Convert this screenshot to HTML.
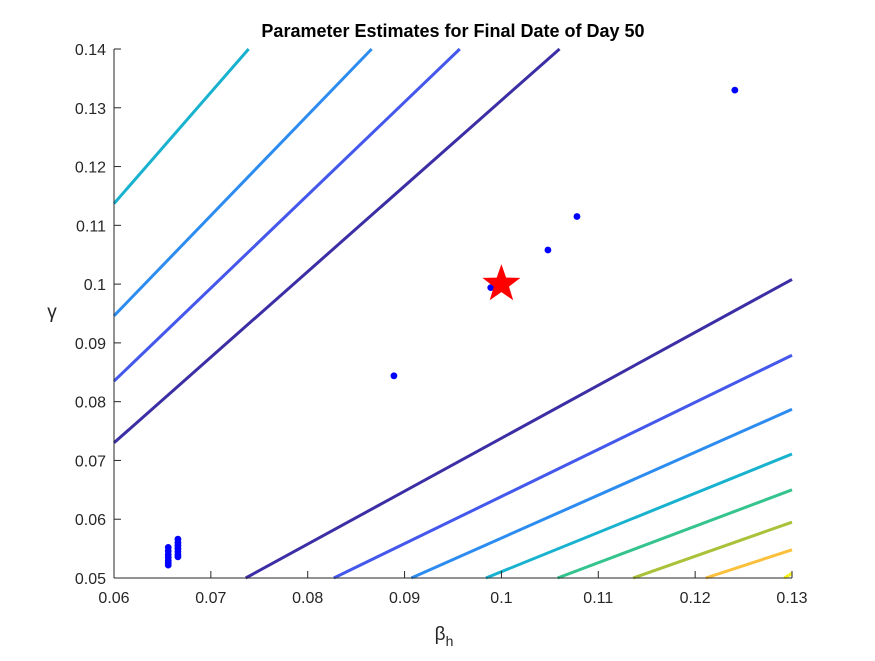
<!DOCTYPE html>
<html><head><meta charset="utf-8"><style>
body{margin:0;background:#fff}
svg text{font-family:"Liberation Sans",sans-serif;fill:#262626}
</style></head><body>
<svg id="chart" width="875" height="656" xmlns="http://www.w3.org/2000/svg">
<rect width="875" height="656" fill="#fff"/>
<g id="lines"></g>
<g id="pts"></g>
<g id="axes"></g>
<text x="453" y="37" text-anchor="middle" font-size="18" font-weight="bold" style="fill:#000">Parameter Estimates for Final Date of Day 50</text>
<text x="444" y="640" text-anchor="middle" font-size="19">β<tspan font-size="14" dy="6">h</tspan></text>
<text x="52" y="318" text-anchor="middle" font-size="19">γ</text>
</svg>
<script>
const xTicks=[0.06,0.07,0.08,0.09,0.1,0.11,0.12,0.13];
const xTickLabels=["0.06","0.07","0.08","0.09","0.1","0.11","0.12","0.13"];
const yTicks=[0.05,0.06,0.07,0.08,0.09,0.1,0.11,0.12,0.13,0.14];
const yTickLabels=["0.05","0.06","0.07","0.08","0.09","0.1","0.11","0.12","0.13","0.14"];
// contour segments [x1,y1,x2,y2] in data units
const contourSegs=[
[0.06,0.1137,0.0739,0.14],[0.06,0.0946,0.0866,0.14],[0.06,0.0835,0.0957,0.14],[0.06,0.0730,0.1060,0.14],
[0.0736,0.05,0.13,0.1008],[0.0827,0.05,0.13,0.0879],[0.0907,0.05,0.13,0.0787],[0.0984,0.05,0.13,0.0711],
[0.1058,0.05,0.13,0.0650],[0.1136,0.05,0.13,0.0595],[0.1211,0.05,0.13,0.0548],[0.1292,0.05,0.13,0.0508]];
const contourColors=["#18b2cf","#2d8cf0","#4458ec","#3c2ea4","#3c2ea4","#4458ec","#2d8cf0","#18b2cf","#35c48e","#a9c23a","#fbc03a","#f6f21c"];
const estBeta=[0.0889,0.0989,0.1048,0.1078,0.1241,0.0656,0.0656,0.0656,0.0656,0.0656,0.0656,0.0656,0.0666,0.0666,0.0666,0.0666,0.0666,0.0666,0.0666];
const estGamma=[0.0844,0.0994,0.1058,0.1115,0.1330,0.0522,0.0526,0.0530,0.0535,0.0540,0.0546,0.0552,0.0536,0.0540,0.0545,0.0550,0.0555,0.0560,0.0566];
const trueBeta=0.1, trueGamma=0.1;
const X0=114,X1=792,Y0=578,Y1=49;
const sx=v=>X0+(v-0.06)/0.07*(X1-X0);
const sy=v=>Y0-(v-0.05)/0.09*(Y0-Y1);
const NS="http://www.w3.org/2000/svg";
function mk(t,a,p){const e=document.createElementNS(NS,t);for(const k in a)e.setAttribute(k,a[k]);p.appendChild(e);return e;}
const L=document.getElementById('lines');
contourSegs.forEach((s,i)=>{const e=mk('line',{x1:sx(s[0]),y1:sy(s[1]),x2:sx(s[2]),y2:sy(s[3]),stroke:contourColors[i],'stroke-width':3},L);

});
const P=document.getElementById('pts');
estBeta.forEach((b,i)=>{const e=mk('circle',{cx:sx(b),cy:sy(estGamma[i]),r:3.4,fill:'#0000ff'},P);

});
(function(){const cx=sx(trueBeta),cy=sy(trueGamma),R=20,r=8;let pts=[];
for(let k=0;k<10;k++){const a=-Math.PI/2+k*Math.PI/5,rr=k%2?r:R;pts.push((cx+rr*Math.cos(a)).toFixed(1)+","+(cy+rr*Math.sin(a)).toFixed(1));}
const e=mk('polygon',{points:pts.join(' '),fill:'#ff0000'},P);

})();
const A=document.getElementById('axes');
mk('line',{x1:X0,y1:Y0,x2:X1,y2:Y0,stroke:'#262626','stroke-width':1},A);
mk('line',{x1:X0,y1:Y0,x2:X0,y2:Y1,stroke:'#262626','stroke-width':1},A);
xTicks.forEach((v,i)=>{const x=sx(v);mk('line',{x1:x,y1:Y0,x2:x,y2:Y0-7,stroke:'#262626'},A);
const t=mk('text',{x:x,y:Y0+25,'text-anchor':'middle','font-size':16},A);t.textContent=xTickLabels[i];

});
yTicks.forEach((v,i)=>{const y=sy(v);mk('line',{x1:X0,y1:y,x2:X0+7,y2:y,stroke:'#262626'},A);
const t=mk('text',{x:X0-8,y:y+6,'text-anchor':'end','font-size':16},A);t.textContent=yTickLabels[i];

});
</script>
</body></html>
